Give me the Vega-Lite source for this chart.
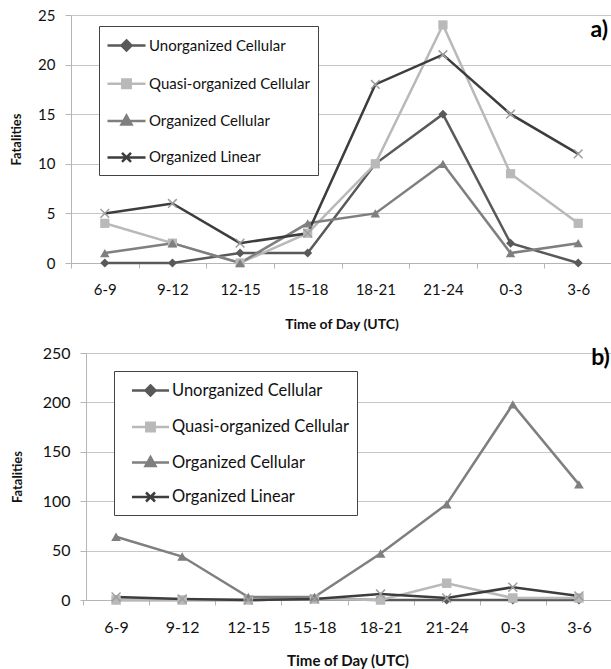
{
  "$schema": "https://vega.github.io/schema/vega-lite/v6.json",
  "padding": {"left": 10, "top": 8, "right": 0, "bottom": 2},
  "spacing": 14,
  "background": "white",
  "config": {"font": "Lato", "view": {"stroke": null}},
  "resolve": {"scale": {"color": "independent"}, "legend": {"color": "independent"}},
  "datasets": {
    "a": [
      {"time": "6-9", "series": "Unorganized Cellular", "value": 0},
      {"time": "9-12", "series": "Unorganized Cellular", "value": 0},
      {"time": "12-15", "series": "Unorganized Cellular", "value": 1},
      {"time": "15-18", "series": "Unorganized Cellular", "value": 1},
      {"time": "18-21", "series": "Unorganized Cellular", "value": 10},
      {"time": "21-24", "series": "Unorganized Cellular", "value": 15},
      {"time": "0-3", "series": "Unorganized Cellular", "value": 2},
      {"time": "3-6", "series": "Unorganized Cellular", "value": 0},
      {"time": "6-9", "series": "Quasi-organized Cellular", "value": 4},
      {"time": "9-12", "series": "Quasi-organized Cellular", "value": 2},
      {"time": "12-15", "series": "Quasi-organized Cellular", "value": 0},
      {"time": "15-18", "series": "Quasi-organized Cellular", "value": 3},
      {"time": "18-21", "series": "Quasi-organized Cellular", "value": 10},
      {"time": "21-24", "series": "Quasi-organized Cellular", "value": 24},
      {"time": "0-3", "series": "Quasi-organized Cellular", "value": 9},
      {"time": "3-6", "series": "Quasi-organized Cellular", "value": 4},
      {"time": "6-9", "series": "Organized Cellular", "value": 1},
      {"time": "9-12", "series": "Organized Cellular", "value": 2},
      {"time": "12-15", "series": "Organized Cellular", "value": 0},
      {"time": "15-18", "series": "Organized Cellular", "value": 4},
      {"time": "18-21", "series": "Organized Cellular", "value": 5},
      {"time": "21-24", "series": "Organized Cellular", "value": 10},
      {"time": "0-3", "series": "Organized Cellular", "value": 1},
      {"time": "3-6", "series": "Organized Cellular", "value": 2},
      {"time": "6-9", "series": "Organized Linear", "value": 5},
      {"time": "9-12", "series": "Organized Linear", "value": 6},
      {"time": "12-15", "series": "Organized Linear", "value": 2},
      {"time": "15-18", "series": "Organized Linear", "value": 3},
      {"time": "18-21", "series": "Organized Linear", "value": 18},
      {"time": "21-24", "series": "Organized Linear", "value": 21},
      {"time": "0-3", "series": "Organized Linear", "value": 15},
      {"time": "3-6", "series": "Organized Linear", "value": 11}
    ],
    "b": [
      {"time": "6-9", "series": "Unorganized Cellular", "value": 0},
      {"time": "9-12", "series": "Unorganized Cellular", "value": 0},
      {"time": "12-15", "series": "Unorganized Cellular", "value": 0},
      {"time": "15-18", "series": "Unorganized Cellular", "value": 1},
      {"time": "18-21", "series": "Unorganized Cellular", "value": 0},
      {"time": "21-24", "series": "Unorganized Cellular", "value": 0},
      {"time": "0-3", "series": "Unorganized Cellular", "value": 0},
      {"time": "3-6", "series": "Unorganized Cellular", "value": 0},
      {"time": "6-9", "series": "Quasi-organized Cellular", "value": 0},
      {"time": "9-12", "series": "Quasi-organized Cellular", "value": 0},
      {"time": "12-15", "series": "Quasi-organized Cellular", "value": 0},
      {"time": "15-18", "series": "Quasi-organized Cellular", "value": 1},
      {"time": "18-21", "series": "Quasi-organized Cellular", "value": 0},
      {"time": "21-24", "series": "Quasi-organized Cellular", "value": 17},
      {"time": "0-3", "series": "Quasi-organized Cellular", "value": 2},
      {"time": "3-6", "series": "Quasi-organized Cellular", "value": 2},
      {"time": "6-9", "series": "Organized Cellular", "value": 64},
      {"time": "9-12", "series": "Organized Cellular", "value": 44},
      {"time": "12-15", "series": "Organized Cellular", "value": 3},
      {"time": "15-18", "series": "Organized Cellular", "value": 3},
      {"time": "18-21", "series": "Organized Cellular", "value": 47},
      {"time": "21-24", "series": "Organized Cellular", "value": 97},
      {"time": "0-3", "series": "Organized Cellular", "value": 198},
      {"time": "3-6", "series": "Organized Cellular", "value": 117},
      {"time": "6-9", "series": "Organized Linear", "value": 3},
      {"time": "9-12", "series": "Organized Linear", "value": 1},
      {"time": "12-15", "series": "Organized Linear", "value": 0},
      {"time": "15-18", "series": "Organized Linear", "value": 1},
      {"time": "18-21", "series": "Organized Linear", "value": 6},
      {"time": "21-24", "series": "Organized Linear", "value": 2},
      {"time": "0-3", "series": "Organized Linear", "value": 13},
      {"time": "3-6", "series": "Organized Linear", "value": 4}
    ]
  },
  "vconcat": [
    {
      "width": 541,
      "height": 248,
      "data": {"name": "a"},
      "encoding": {
        "x": {
          "field": "time", "type": "ordinal",
          "sort": ["6-9", "9-12", "12-15", "15-18", "18-21", "21-24", "0-3", "3-6"],
          "scale": {"type": "band", "paddingInner": 0, "paddingOuter": 0},
          "axis": {"title": "Time of Day (UTC)", "titleFontSize": 14, "titleFontWeight": "bold", "titleColor": "#111", "titlePadding": 20, "labelAngle": 0, "labelPadding": 14, "labelFontSize": 15, "labelColor": "#111", "tickSize": 5, "tickBand": "extent", "domainColor": "#b5b5b5", "tickColor": "#b5b5b5", "grid": false}
        },
        "y": {
          "field": "value", "type": "quantitative",
          "scale": {"domain": [0, 25]},
          "axis": {"title": "Fatalities", "titleFontSize": 13, "titleFontWeight": "bold", "titleColor": "#111", "titlePadding": 14, "values": [0, 5, 10, 15, 20, 25], "grid": true, "gridColor": "#c6c6c6", "domainColor": "#b5b5b5", "tickColor": "#b5b5b5", "tickSize": 6, "labelPadding": 10, "labelFontSize": 15, "labelColor": "#111"}
        },
        "color": {
          "field": "series", "type": "nominal",
          "scale": {"domain": ["Unorganized Cellular", "Quasi-organized Cellular", "Organized Cellular", "Organized Linear"], "range": ["#595959", "#b9b9b9", "#7f7f7f", "#3d3d3d"]},
          "legend": {
            "orient": "none", "legendX": 28, "legendY": 11, "title": null,
            "padding": 8, "strokeColor": "#444", "fillColor": "white",
            "symbolSize": 400, "symbolOffset": 8, "labelOffset": 11, "rowPadding": 16.3,
            "labelFontSize": 15, "labelColor": "#111", "labelLimit": 400,
            "encode": {"symbols": {"update": {
              "shape": {"signal": "datum.value === 'Unorganized Cellular' ? 'M-1.9,0L1.9,0M0,-0.5L0.5,0L0,0.5L-0.5,0Z' : datum.value === 'Quasi-organized Cellular' ? 'M-1.9,0L1.9,0M-0.42,-0.42L0.42,-0.42L0.42,0.42L-0.42,0.42Z' : datum.value === 'Organized Cellular' ? 'M-1.9,0L1.9,0M0,-0.55L0.5,0.35L-0.5,0.35Z' : 'M-1.9,0L1.9,0M-0.45,-0.45L0.45,0.45M-0.45,0.45L0.45,-0.45'"},
              "strokeWidth": {"value": 2.5},
              "opacity": {"value": 1}
            }}}
          }
        }
      },
      "layer": [
        {"mark": {"type": "line", "strokeWidth": 2.5}, "encoding": {}},
        {
          "transform": [{"filter": {"field": "series", "equal": "Unorganized Cellular"}}],
          "mark": {"type": "point", "shape": "diamond", "filled": true, "size": 80, "opacity": 1}
        },
        {
          "transform": [{"filter": {"field": "series", "equal": "Quasi-organized Cellular"}}],
          "mark": {"type": "point", "shape": "square", "filled": true, "size": 85, "opacity": 1}
        },
        {
          "transform": [{"filter": {"field": "series", "equal": "Organized Cellular"}}],
          "mark": {"type": "point", "shape": "triangle-up", "filled": true, "size": 90, "opacity": 1}
        },
        {
          "transform": [{"filter": {"field": "series", "equal": "Organized Linear"}}],
          "mark": {"type": "point", "shape": "M-1,-1L1,1M-1,1L1,-1", "filled": false, "size": 75, "strokeWidth": 1.5, "opacity": 1},
          "encoding": {"stroke": {"value": "#9d9d9d"}}
        },
        {
          "transform": [{"filter": "datum.series === 'Organized Linear' && datum.time === '3-6'"}],
          "mark": {"type": "text", "text": "a)", "align": "right", "baseline": "alphabetic", "fontSize": 23, "fontWeight": "bold", "dx": 30},
          "encoding": {
            "y": {"datum": 22.75},
            "color": {"value": "#000"}
          }
        }
      ]
    },
    {
      "width": 541,
      "height": 247,
      "data": {"name": "b"},
      "encoding": {
        "x": {
          "field": "time", "type": "ordinal",
          "sort": ["6-9", "9-12", "12-15", "15-18", "18-21", "21-24", "0-3", "3-6"],
          "scale": {"type": "band", "paddingInner": 0, "paddingOuter": 0, "range": [12, 541]},
          "axis": {"title": "Time of Day (UTC)", "titleFontSize": 15, "titleFontWeight": "bold", "titleColor": "#111", "titlePadding": 18, "labelAngle": 0, "labelPadding": 14, "labelFontSize": 16, "labelColor": "#111", "tickSize": 5, "tickBand": "extent", "domainColor": "#b5b5b5", "tickColor": "#b5b5b5", "grid": false}
        },
        "y": {
          "field": "value", "type": "quantitative",
          "scale": {"domain": [0, 250]},
          "axis": {"title": "Fatalities", "titleFontSize": 13, "titleFontWeight": "bold", "titleColor": "#111", "titlePadding": 18, "offset": -15, "values": [0, 50, 100, 150, 200, 250], "grid": true, "gridColor": "#c6c6c6", "domainColor": "#b5b5b5", "tickColor": "#b5b5b5", "tickSize": 6, "labelPadding": 10, "labelFontSize": 16, "labelColor": "#111"}
        },
        "color": {
          "field": "series", "type": "nominal",
          "scale": {"domain": ["Unorganized Cellular", "Quasi-organized Cellular", "Organized Cellular", "Organized Linear"], "range": ["#595959", "#b9b9b9", "#7f7f7f", "#3d3d3d"]},
          "legend": {
            "orient": "none", "legendX": 43, "legendY": 18, "title": null,
            "padding": 8, "strokeColor": "#444", "fillColor": "white",
            "symbolSize": 400, "symbolOffset": 17, "labelOffset": 10, "rowPadding": 14.5,
            "labelFontSize": 16.5, "labelColor": "#111", "labelLimit": 400,
            "encode": {"symbols": {"update": {
              "shape": {"signal": "datum.value === 'Unorganized Cellular' ? 'M-1.85,0L1.85,0M0,-0.5L0.5,0L0,0.5L-0.5,0Z' : datum.value === 'Quasi-organized Cellular' ? 'M-1.85,0L1.85,0M-0.42,-0.42L0.42,-0.42L0.42,0.42L-0.42,0.42Z' : datum.value === 'Organized Cellular' ? 'M-1.85,0L1.85,0M0,-0.55L0.5,0.35L-0.5,0.35Z' : 'M-1.85,0L1.85,0M-0.45,-0.45L0.45,0.45M-0.45,0.45L0.45,-0.45'"},
              "strokeWidth": {"value": 2.5},
              "opacity": {"value": 1}
            }}}
          }
        }
      },
      "layer": [
        {"mark": {"type": "line", "strokeWidth": 2.5}, "encoding": {}},
        {
          "transform": [{"filter": {"field": "series", "equal": "Unorganized Cellular"}}],
          "mark": {"type": "point", "shape": "diamond", "filled": true, "size": 85, "opacity": 1}
        },
        {
          "transform": [{"filter": {"field": "series", "equal": "Quasi-organized Cellular"}}],
          "mark": {"type": "point", "shape": "square", "filled": true, "size": 90, "opacity": 1}
        },
        {
          "transform": [{"filter": {"field": "series", "equal": "Organized Cellular"}}],
          "mark": {"type": "point", "shape": "triangle-up", "filled": true, "size": 95, "opacity": 1}
        },
        {
          "transform": [{"filter": {"field": "series", "equal": "Organized Linear"}}],
          "mark": {"type": "point", "shape": "M-1,-1L1,1M-1,1L1,-1", "filled": false, "size": 80, "strokeWidth": 1.5, "opacity": 1},
          "encoding": {"stroke": {"value": "#9d9d9d"}}
        },
        {
          "transform": [{"filter": "datum.series === 'Organized Linear' && datum.time === '3-6'"}],
          "mark": {"type": "text", "text": "b)", "align": "right", "baseline": "alphabetic", "fontSize": 23, "fontWeight": "bold", "dx": 31},
          "encoding": {
            "y": {"datum": 238},
            "color": {"value": "#000"}
          }
        }
      ]
    }
  ]
}
